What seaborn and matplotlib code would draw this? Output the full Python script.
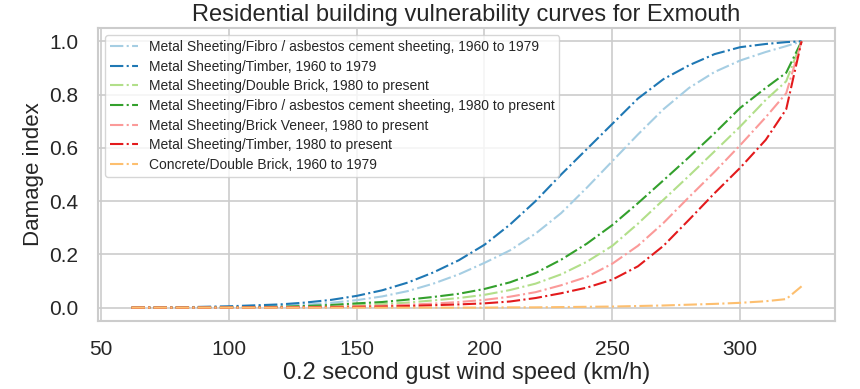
import matplotlib
matplotlib.use("Agg")
import matplotlib.pyplot as plt
import seaborn as sns
import pandas as pd

wind_speed = [62, 80, 100, 120, 130, 140, 150, 160, 170, 180, 190, 200, 210,
              220, 230, 240, 250, 260, 270, 280, 290, 300, 310, 318, 324]

fibro_1960 = [0.0, 0.001, 0.002, 0.007, 0.011, 0.018, 0.028, 0.042, 0.062, 0.090, 0.125, 0.168, 0.215,
              0.278, 0.355, 0.450, 0.550, 0.650, 0.745, 0.825, 0.885, 0.928, 0.960, 0.982, 1.0]
timber_1960 = [0.0, 0.001, 0.005, 0.012, 0.019, 0.029, 0.044, 0.065, 0.094, 0.132, 0.178, 0.236, 0.312,
               0.400, 0.500, 0.595, 0.690, 0.785, 0.858, 0.910, 0.952, 0.978, 0.990, 0.997, 1.0]
double_brick_1980 = [0.0, 0.0, 0.001, 0.002, 0.004, 0.006, 0.009, 0.013, 0.019, 0.027, 0.036, 0.048, 0.066,
                     0.090, 0.125, 0.172, 0.232, 0.315, 0.405, 0.495, 0.587, 0.680, 0.780, 0.850, 1.0]
fibro_1980 = [0.0, 0.0, 0.001, 0.003, 0.006, 0.010, 0.016, 0.021, 0.030, 0.040, 0.052, 0.070, 0.095,
              0.130, 0.180, 0.240, 0.310, 0.392, 0.478, 0.565, 0.655, 0.750, 0.825, 0.882, 1.0]
brick_veneer_1980 = [0.0, 0.0, 0.0, 0.001, 0.002, 0.003, 0.005, 0.007, 0.011, 0.015, 0.021, 0.029, 0.041,
                     0.058, 0.084, 0.115, 0.165, 0.232, 0.318, 0.415, 0.510, 0.610, 0.715, 0.805, 1.0]
timber_1980 = [0.0, 0.0, 0.0, 0.001, 0.001, 0.002, 0.003, 0.004, 0.006, 0.009, 0.012, 0.016, 0.023,
               0.036, 0.054, 0.075, 0.105, 0.155, 0.232, 0.330, 0.430, 0.525, 0.630, 0.745, 1.0]
concrete_1960 = [0.0, 0.0, 0.0, 0.0, 0.0, 0.0, 0.0, 0.0, 0.0, 0.0, 0.0, 0.0, 0.001,
                 0.001, 0.002, 0.003, 0.004, 0.006, 0.008, 0.011, 0.014, 0.018, 0.024, 0.032, 0.08]

series_names = [
    "Metal Sheeting/Fibro / asbestos cement sheeting, 1960 to 1979",
    "Metal Sheeting/Timber, 1960 to 1979",
    "Metal Sheeting/Double Brick, 1980 to present",
    "Metal Sheeting/Fibro / asbestos cement sheeting, 1980 to present",
    "Metal Sheeting/Brick Veneer, 1980 to present",
    "Metal Sheeting/Timber, 1980 to present",
    "Concrete/Double Brick, 1960 to 1979",
]
series_values = [fibro_1960, timber_1960, double_brick_1980, fibro_1980,
                 brick_veneer_1980, timber_1980, concrete_1960]

sns.set_theme(style="whitegrid")
plt.rcParams['font.family'] = ['Liberation Sans', 'DejaVu Sans']

palette = sns.color_palette("Paired", 7)

fig, ax = plt.subplots(figsize=(8.6, 3.89), dpi=100)
fig.subplots_adjust(left=0.114, right=0.971, top=0.928, bottom=0.175)

for name, vals, col in zip(series_names, series_values, palette):
    df = pd.DataFrame({"speed": wind_speed, "damage": vals})
    sns.lineplot(data=df, x="speed", y="damage", ax=ax, color=col,
                 linestyle="-.", linewidth=1.5, label=name)

ax.set_title("Residential building vulnerability curves for Exmouth", fontsize=17, pad=5)
ax.set_xlabel("0.2 second gust wind speed (km/h)", fontsize=17, labelpad=2)
ax.set_ylabel("Damage index", fontsize=16, labelpad=4)
ax.tick_params(axis="x", labelsize=15, pad=8)
ax.tick_params(axis="y", labelsize=15, pad=8)
ax.set_xticks([50, 100, 150, 200, 250, 300])
ax.set_yticks([0.0, 0.2, 0.4, 0.6, 0.8, 1.0])
ax.grid(True, color="#cccccc", linewidth=1.2)
for s in ax.spines.values():
    s.set_color("#cccccc")
    s.set_linewidth(1.5)

ax.legend(loc="upper left", fontsize=10, frameon=True, handlelength=2.0,
          labelspacing=0.41, borderpad=0.35)

fig.savefig("out.png", dpi=100)
